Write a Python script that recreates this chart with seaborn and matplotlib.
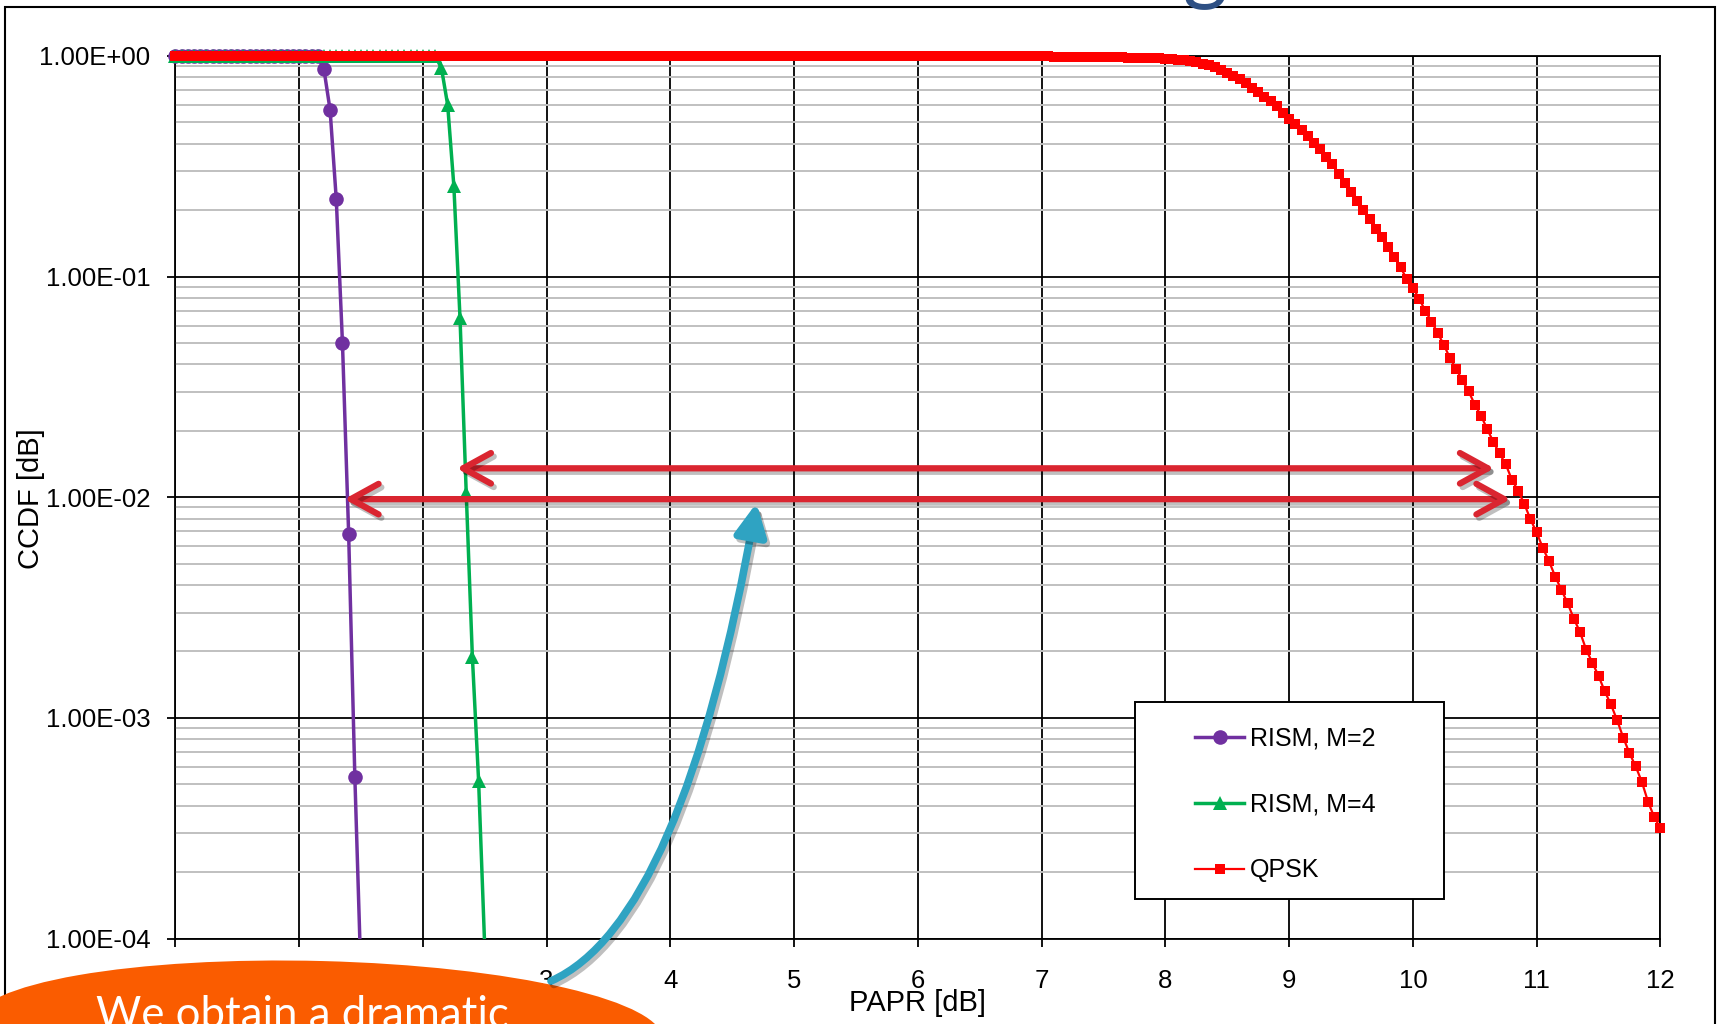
import matplotlib
matplotlib.use("Agg")
import matplotlib.pyplot as plt
import seaborn as sns
import pandas as pd
from matplotlib.ticker import LogLocator, NullFormatter, FixedLocator, FuncFormatter
from matplotlib.transforms import Bbox, TransformedBbox
from matplotlib.patches import Ellipse, Rectangle, FancyArrowPatch
import matplotlib.patheffects as pe

plt.rcParams['font.family'] = ['Liberation Sans', 'DejaVu Sans']

# ---------------- data ----------------
rism2_papr = [0.0, 0.05, 0.1, 0.15, 0.2, 0.25, 0.3, 0.35, 0.4, 0.45, 0.5, 0.55, 0.6, 0.65, 0.7, 0.75,
              0.8, 0.85, 0.9, 0.95, 1.0, 1.05, 1.1, 1.15, 1.2, 1.25, 1.3, 1.35, 1.4, 1.45, 1.5]
rism2_ccdf = [1.0] * 24 + [0.872, 0.569, 0.224, 0.0500, 0.00682, 0.000542, 0.000066]

rism4_papr = [0.0, 0.05, 0.1, 0.15, 0.2, 0.25, 0.3, 0.35, 0.4, 0.45, 0.5, 0.55, 0.6, 0.65, 0.7, 0.75,
              0.8, 0.85, 0.9, 0.95, 1.0, 1.05, 1.1, 1.15, 1.2, 1.25, 1.3, 1.35, 1.4, 1.45, 1.5, 1.55,
              1.6, 1.65, 1.7, 1.75, 1.8, 1.85, 1.9, 1.95, 2.0, 2.05, 2.1, 2.15, 2.2, 2.25, 2.3, 2.35,
              2.4, 2.45, 2.5]
rism4_ccdf = [1.0] * 43 + [0.880, 0.600, 0.258, 0.0647, 0.0105, 0.00188, 0.000520, 0.00009]

qpsk_papr = [
    0.0, 0.05, 0.1, 0.15, 0.2, 0.25, 0.3, 0.35, 0.4, 0.45, 0.5, 0.55, 0.6, 0.65, 0.7, 0.75, 0.8, 0.85, 0.9, 0.95,
    1.0, 1.05, 1.1, 1.15, 1.2, 1.25, 1.3, 1.35, 1.4, 1.45, 1.5, 1.55, 1.6, 1.65, 1.7, 1.75, 1.8, 1.85, 1.9, 1.95,
    2.0, 2.05, 2.1, 2.15, 2.2, 2.25, 2.3, 2.35, 2.4, 2.45, 2.5, 2.55, 2.6, 2.65, 2.7, 2.75, 2.8, 2.85, 2.9, 2.95,
    3.0, 3.05, 3.1, 3.15, 3.2, 3.25, 3.3, 3.35, 3.4, 3.45, 3.5, 3.55, 3.6, 3.65, 3.7, 3.75, 3.8, 3.85, 3.9, 3.95,
    4.0, 4.05, 4.1, 4.15, 4.2, 4.25, 4.3, 4.35, 4.4, 4.45, 4.5, 4.55, 4.6, 4.65, 4.7, 4.75, 4.8, 4.85, 4.9, 4.95,
    5.0, 5.05, 5.1, 5.15, 5.2, 5.25, 5.3, 5.35, 5.4, 5.45, 5.5, 5.55, 5.6, 5.65, 5.7, 5.75, 5.8, 5.85, 5.9, 5.95,
    6.0, 6.05, 6.1, 6.15, 6.2, 6.25, 6.3, 6.35, 6.4, 6.45, 6.5, 6.55, 6.6, 6.65, 6.7, 6.75, 6.8, 6.85, 6.9, 6.95,
    7.0, 7.05, 7.1, 7.15, 7.2, 7.25, 7.3, 7.35, 7.4, 7.45, 7.5, 7.55, 7.6, 7.65, 7.7, 7.75, 7.8, 7.85, 7.9, 7.95,
    8.0, 8.05, 8.1, 8.15, 8.2, 8.25, 8.3, 8.35, 8.4, 8.45, 8.5, 8.55, 8.6, 8.65, 8.7, 8.75, 8.8, 8.85, 8.9, 8.95,
    9.0, 9.05, 9.1, 9.15, 9.2, 9.25, 9.3, 9.35, 9.4, 9.45, 9.5, 9.55, 9.6, 9.65, 9.7, 9.75, 9.8, 9.85, 9.9, 9.95,
    10.0, 10.05, 10.1, 10.15, 10.2, 10.25, 10.3, 10.35, 10.4, 10.45, 10.5, 10.55, 10.6, 10.65, 10.7, 10.75, 10.8, 10.85, 10.9, 10.95,
    11.0, 11.05, 11.1, 11.15, 11.2, 11.25, 11.3, 11.35, 11.4, 11.45, 11.5, 11.55, 11.6, 11.65, 11.7, 11.75, 11.8, 11.85, 11.9, 11.95,
    12.0]
qpsk_ccdf = [1.0] * 140 + [
    0.995, 0.994, 0.993, 0.993, 0.992, 0.991, 0.990, 0.990, 0.989, 0.988,
    0.987, 0.986, 0.985, 0.984, 0.983, 0.982, 0.981, 0.979, 0.977, 0.975,
    0.972, 0.968, 0.963, 0.957, 0.948, 0.935, 0.923, 0.906, 0.887, 0.863,
    0.838, 0.813, 0.785, 0.750, 0.716, 0.689, 0.653, 0.624, 0.592, 0.552,
    0.519, 0.490, 0.462, 0.432, 0.405, 0.378, 0.350, 0.322, 0.293, 0.265,
    0.241, 0.219, 0.200, 0.182, 0.164, 0.151, 0.136, 0.123, 0.110, 0.0977,
    0.0891, 0.0794, 0.0700, 0.0625, 0.0556, 0.0490, 0.0427, 0.0380, 0.0339, 0.0302,
    0.0263, 0.0234, 0.0204, 0.0178, 0.0158, 0.0141, 0.0120, 0.0107, 0.00933, 0.00794,
    0.00692, 0.00589, 0.00513, 0.00437, 0.00380, 0.00331, 0.00282, 0.00245, 0.00204, 0.00178,
    0.00155, 0.00132, 0.00115, 0.000977, 0.000813, 0.000692, 0.000603, 0.000513, 0.000417, 0.000355,
    0.000316]

series_labels = ["RISM, M=2", "RISM, M=4", "QPSK"]
x_ticks = [0, 1, 2, 3, 4, 5, 6, 7, 8, 9, 10, 11, 12]
y_ticks = [1e-4, 1e-3, 1e-2, 1e-1, 1.0]
x_label = "PAPR [dB]"
y_label = "CCDF [dB]"
callout_text = "We obtain a dramatic"

PURPLE = "#7030A0"
GREEN = "#00B050"
RED = "#FF0000"
ARROW_RED = "#DA2530"
ARROW_BLUE = "#2FA3C2"
ORANGE = "#FA5C00"
TITLE_BLUE = "#2E5084"

W, H = 1719, 1024


def fx(px):
    return px / W


def fy(py):
    return 1 - py / H


fig = plt.figure(figsize=(W / 100, H / 100), dpi=100)
ax = fig.add_axes([fx(175.4), fy(938.5), fx(1660.4) - fx(175.4), fy(55.9) - fy(938.5)])
ax.set_yscale("log")

df2 = pd.DataFrame({"papr": rism2_papr, "ccdf": rism2_ccdf})
df4 = pd.DataFrame({"papr": rism4_papr, "ccdf": rism4_ccdf})
dfq = pd.DataFrame({"papr": qpsk_papr, "ccdf": qpsk_ccdf})

common = dict(ax=ax, x="papr", y="ccdf", estimator=None, sort=False, errorbar=None)
sns.lineplot(data=df2, color=PURPLE, marker="o", markersize=10.5, linewidth=2.5,
             markeredgecolor=PURPLE, markeredgewidth=0, label=series_labels[0], zorder=3, **common)
sns.lineplot(data=df4, color=GREEN, marker="^", markersize=10.5, linewidth=2.5,
             markeredgecolor=GREEN, markeredgewidth=0, label=series_labels[1], zorder=3.1, **common)
sns.lineplot(data=dfq, color=RED, marker="s", markersize=7, linewidth=1.6,
             markeredgecolor=RED, markeredgewidth=0, label=series_labels[2], zorder=3.2, **common)

# let markers spill over the top/left/right border like the original, but clip below the bottom
clip = TransformedBbox(Bbox([[-0.02, 0.0], [1.02, 1.03]]), ax.transAxes)
for ln in ax.lines:
    ln.set_clip_box(clip)

ax.set_xlim(0, 12)
ax.set_ylim(1e-4, 1.0)
ax.xaxis.set_major_locator(FixedLocator(x_ticks))
ax.set_xticklabels([str(t) for t in x_ticks])
ax.yaxis.set_major_locator(FixedLocator(y_ticks))
ax.yaxis.set_major_formatter(FuncFormatter(lambda v, p: f"{v:.2E}"))
ax.yaxis.set_minor_locator(LogLocator(base=10, subs=(2, 3, 4, 5, 6, 7, 8, 9)))
ax.yaxis.set_minor_formatter(NullFormatter())

ax.set_axisbelow(True)
ax.grid(which="minor", axis="y", color="#C0C0C0", linewidth=1.4)
ax.grid(which="major", axis="both", color="black", linewidth=1.3)
for sp in ax.spines.values():
    sp.set_color("black")
    sp.set_linewidth(1.3)

ax.tick_params(axis="y", which="major", labelsize=18.5, length=6, width=1.3, pad=12, colors="black")
ax.tick_params(axis="x", which="major", labelsize=18.5, length=6, width=1.3, pad=16, colors="black")
ax.tick_params(which="minor", length=0)

ax.set_xlabel(x_label, fontsize=21)
ax.xaxis.label.set_va("center")
ax.xaxis.set_label_coords(0.5, -0.0735)
ax.set_ylabel(y_label, fontsize=21)
ax.yaxis.label.set_va("center")
ax.yaxis.set_label_coords(-0.0975, 0.498)

# legend in a square-cornered box
handles, labels = ax.get_legend_handles_labels()
leg_box = Rectangle((fx(1135), fy(899)), fx(1444) - fx(1135), fy(702) - fy(899),
                    transform=fig.transFigure, facecolor="white", edgecolor="black",
                    linewidth=1.4, zorder=4.5)
ax.add_artist(leg_box)
leg = ax.legend(handles, labels, loc="center left", bbox_to_anchor=(fx(1195), fy(804.5)),
                bbox_transform=fig.transFigure, frameon=False, fontsize=18,
                borderpad=0, borderaxespad=0, handlelength=1.96, handletextpad=0.25,
                labelspacing=1.68)
leg.set_zorder(5)

# red double arrows
shadow = [pe.SimpleLineShadow(offset=(2, -2.5), shadow_color="black", alpha=0.25), pe.Normal()]
for (x0, x1, yv) in [(2.273, 10.657, 0.01352), (1.365, 10.79, 0.0098)]:
    ax.annotate("", xy=(x0, yv), xytext=(x1, yv), xycoords="data", textcoords="data",
                arrowprops=dict(arrowstyle="<->,head_length=1.0,head_width=0.55", color=ARROW_RED,
                                lw=4.5, shrinkA=0, shrinkB=0, mutation_scale=20,
                                path_effects=shadow),
                zorder=6)

# blue curved arrow
blue = FancyArrowPatch(posA=(fx(551), fy(981)), posB=(fx(756.5), fy(503)), transform=fig.transFigure,
                       arrowstyle="-|>,head_length=1.2,head_width=0.6", mutation_scale=16,
                       connectionstyle="angle3,angleA=24,angleB=80", color=ARROW_BLUE, lw=5.5,
                       shrinkA=0, shrinkB=0, zorder=12,
                       path_effects=[pe.SimpleLineShadow(offset=(2, -2.5), shadow_color="black", alpha=0.25),
                                     pe.Normal()])
fig.add_artist(blue)

# outer chart border
border = Rectangle((fx(4.5), -0.05), fx(1715) - fx(4.5), fy(6.5) + 0.05, transform=fig.transFigure,
                   fill=False, edgecolor="black", linewidth=1.5, zorder=9)
fig.add_artist(border)

# orange callout ellipse
ell = Ellipse((fx(318), fy(1031)), 2 * 345 / W, 2 * 70 / H, angle=-2.5, transform=fig.transFigure,
              facecolor=ORANGE, edgecolor="none", zorder=10)
fig.add_artist(ell)
fig.text(fx(302), fy(1028), callout_text, color="white", fontsize=31.5, ha="center", va="baseline",
         family=["Lato", "DejaVu Sans"], zorder=11)

# clipped slide title descender
fig.text(fx(1205), fy(-7), "g", color=TITLE_BLUE, fontsize=62, ha="center", va="baseline",
         family=["Lato", "DejaVu Sans"], zorder=11)

fig.savefig("out.png", dpi=100)
